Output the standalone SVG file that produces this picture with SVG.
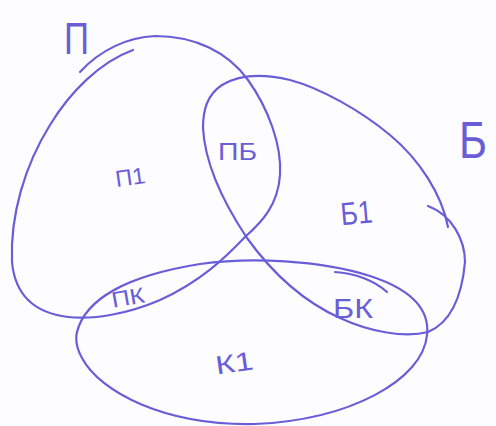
<svg xmlns="http://www.w3.org/2000/svg" width="496" height="426" viewBox="0 0 496 426">
<style>
.ln{fill:none;stroke:#6a5ed8;stroke-width:2.2;stroke-linecap:round;stroke-linejoin:round}
.tx{font-family:"Liberation Sans","DejaVu Sans",sans-serif;fill:#6a5ed8}
</style>
<rect width="496" height="426" fill="#fdfdff"/>
<g id="set-P">
<path class="ln" d="M80 72 C100 50,128 37,155 36 C195 36,228 52,248 80 C268 108,282 145,280 175 C278 205,262 222,245 237 C225 258,200 282,160 300 C130 313,95 320,68 317 C35 313,15 295,12 262 C10 215,25 165,50 125 C70 92,100 62,133 50"/>
<text class="tx" x="64" y="54" font-size="44" textLength="25" lengthAdjust="spacingAndGlyphs">П</text>
</g>
<g id="set-B">
<path class="ln" d="M448 227 C442 195,420 160,390 135 C360 110,320 88,290 80 C265 74,240 74,222 85 C207 95,203 110,203 128 C205 165,225 205,247 238 C270 270,300 300,340 318 C370 332,405 338,428 332 C452 322,462 295,465 262 C465 240,452 215,428 206"/>
<text class="tx" x="459" y="158" font-size="52" textLength="28" lengthAdjust="spacingAndGlyphs">Б</text>
</g>
<g id="set-K">
<path class="ln" d="M77 332 C85 300,125 276,200 264 C250 257,320 260,370 276 C410 289,430 308,427 335 C423 380,350 420,255 424 C165 426,100 392,82 358 C76 347,75 340,77 332"/>
<path class="ln" d="M335 272 C355 273,375 281,387 292"/>
</g>
<g id="regions">
<text class="tx" x="115" y="185" font-size="23" textLength="30" lengthAdjust="spacingAndGlyphs" transform="rotate(-8 130 175)">П1</text>
<text class="tx" x="218" y="160" font-size="24" textLength="39" lengthAdjust="spacingAndGlyphs">ПБ</text>
<text class="tx" x="340" y="224" font-size="32" textLength="32" lengthAdjust="spacingAndGlyphs" transform="rotate(-5 356 208)">Б1</text>
<text class="tx" x="111" y="305" font-size="22" textLength="33" lengthAdjust="spacingAndGlyphs" transform="rotate(-10 128 295)">ПК</text>
<text class="tx" x="333" y="318" font-size="28" textLength="40" lengthAdjust="spacingAndGlyphs">БК</text>
<text class="tx" x="215" y="372" font-size="26" textLength="38" lengthAdjust="spacingAndGlyphs" transform="rotate(-8 234 360)">К1</text>
</g>
<g id="connectors"/>
</svg>
